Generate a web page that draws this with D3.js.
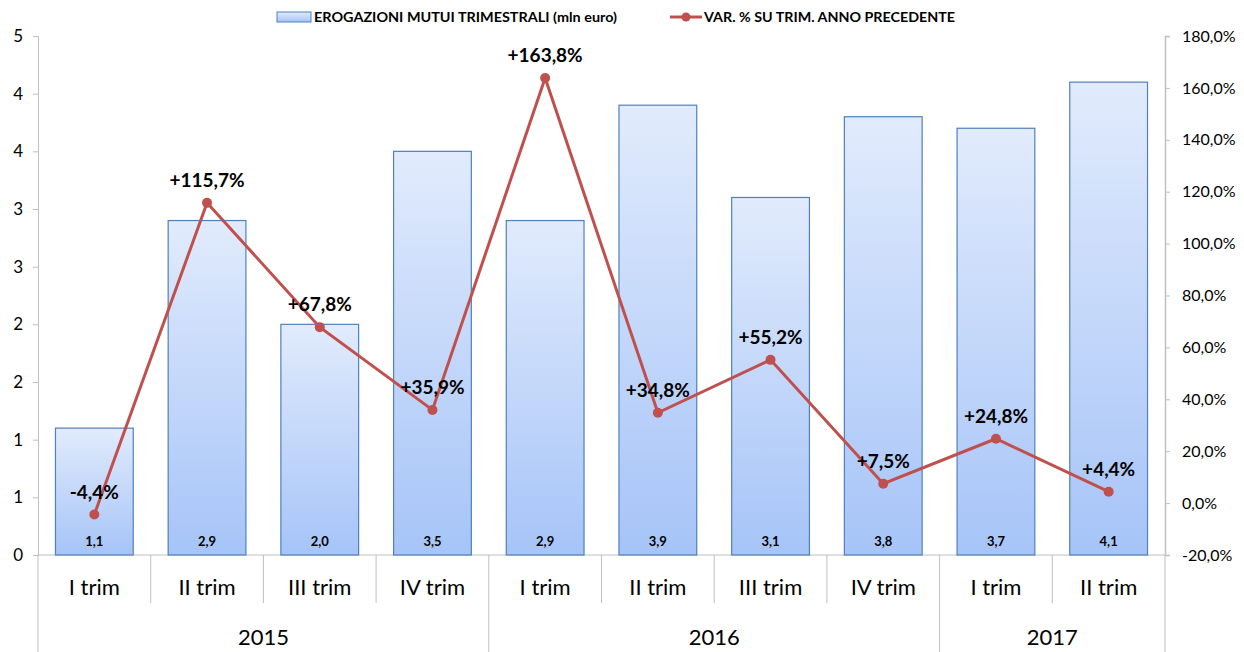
<!DOCTYPE html>
<html>
<head>
<meta charset="utf-8">
<script src="https://cdn.jsdelivr.net/npm/d3@7"></script>
<style>
  body { margin: 0; background: #fff; }
  svg { display: block; font-family: Lato, "Open Sans", sans-serif; }
</style>
</head>
<body>
<svg id="chart"></svg>
<script>
(function() {

  const quarters = ['I trim', 'II trim', 'III trim', 'IV trim', 'I trim', 'II trim', 'III trim', 'IV trim', 'I trim', 'II trim'];
  const years = ['2015', '2016', '2017'];
  const yearSpans = [4, 4, 2];
  const erogazioni = [1.1, 2.9, 2.0, 3.5, 2.9, 3.9, 3.1, 3.8, 3.7, 4.1];
  const variazioni = [-4.4, 115.7, 67.8, 35.9, 163.8, 34.8, 55.2, 7.5, 24.8, 4.4];
  const leftTicks = [0, 0.5, 1, 1.5, 2, 2.5, 3, 3.5, 4, 4.5];
  const rightTicks = [-20, 0, 20, 40, 60, 80, 100, 120, 140, 160, 180];

  const width = 1244;
  const height = 652;
  const margin = { left: 38, right: 79, top: 36, bottom: 97 };
  const plotRight = width - margin.right;
  const plotBottom = height - margin.bottom;

  const lineColor = '#c0504d';
  const axisColor = '#bfbfbf';

  // italian number format, plain hyphen for negatives
  const fmt1 = function(d) {
    return (d < 0 ? '-' : '') + Math.abs(d).toFixed(1).replace('.', ',');
  };

  const svg = d3.select('#chart').attr('width', width).attr('height', height);

  const defs = svg.append('defs');
  const grad = defs.append('linearGradient')
    .attr('id', 'barGrad')
    .attr('x1', 0).attr('y1', 0).attr('x2', 0).attr('y2', 1);
  grad.append('stop').attr('offset', '0%').attr('stop-color', '#e1ebfc');
  grad.append('stop').attr('offset', '100%').attr('stop-color', '#a6c4f8');

  const idx = d3.range(quarters.length);

  const x = d3.scaleBand()
    .domain(idx)
    .range([margin.left, plotRight])
    .paddingInner(0.31)
    .paddingOuter(0.155);

  const catLeft = function(i) { return margin.left + i * (plotRight - margin.left) / quarters.length; };

  const yLeft = d3.scaleLinear().domain([0, 4.5]).range([plotBottom, margin.top]);
  const yRight = d3.scaleLinear().domain([-20, 180]).range([plotBottom, margin.top]);

  // left axis
  const leftAxis = d3.axisLeft(yLeft)
    .tickValues(leftTicks)
    .tickSize(5)
    .tickPadding(10)
    .tickFormat(function(d) { return Math.round(d + 0.0001); });
  const gl = svg.append('g')
    .attr('transform', 'translate(' + margin.left + ',0)')
    .call(leftAxis);
  gl.select('.domain').attr('stroke', axisColor);
  gl.selectAll('.tick line').attr('stroke', axisColor);
  gl.selectAll('.tick text')
    .attr('fill', '#000')
    .style('font-size', '17px')
    .style('font-family', 'Lato, sans-serif');

  // right axis
  const rightAxis = d3.axisRight(yRight)
    .tickValues(rightTicks)
    .tickSize(5)
    .tickPadding(12)
    .tickFormat(function(d) { return fmt1(d) + '%'; });
  const gr = svg.append('g')
    .attr('transform', 'translate(' + plotRight + ',0)')
    .call(rightAxis);
  gr.select('.domain').attr('stroke', axisColor).attr('stroke-width', 1.5);
  gr.selectAll('.tick line').attr('stroke', axisColor);
  gr.selectAll('.tick text')
    .attr('fill', '#000')
    .style('font-size', '16px')
    .style('font-family', 'Lato, sans-serif');

  // category axis
  const catG = svg.append('g');
  catG.append('line')
    .attr('x1', margin.left).attr('x2', plotRight)
    .attr('y1', plotBottom).attr('y2', plotBottom)
    .attr('stroke', axisColor);

  const groupEdges = [0];
  yearSpans.forEach(function(s, i) { groupEdges.push(groupEdges[i] + s); });

  d3.range(quarters.length + 1).forEach(function(i) {
    const isGroup = groupEdges.indexOf(i) >= 0;
    catG.append('line')
      .attr('x1', catLeft(i)).attr('x2', catLeft(i))
      .attr('y1', plotBottom).attr('y2', isGroup ? height : plotBottom + 48)
      .attr('stroke', axisColor);
  });

  catG.selectAll('text.q')
    .data(quarters)
    .enter()
    .append('text')
    .attr('class', 'q')
    .attr('x', function(d, i) { return x(i) + x.bandwidth() / 2; })
    .attr('y', plotBottom + 40)
    .attr('text-anchor', 'middle')
    .style('font-size', '22px')
    .text(function(d) { return d; });

  catG.selectAll('text.yr')
    .data(years)
    .enter()
    .append('text')
    .attr('class', 'yr')
    .attr('x', function(d, i) { return (catLeft(groupEdges[i]) + catLeft(groupEdges[i + 1])) / 2; })
    .attr('y', plotBottom + 90)
    .attr('text-anchor', 'middle')
    .style('font-size', '22px')
    .text(function(d) { return d; });

  // bars
  svg.append('g').selectAll('rect')
    .data(erogazioni)
    .enter()
    .append('rect')
    .attr('x', function(d, i) { return x(i); })
    .attr('y', function(d) { return yLeft(d); })
    .attr('width', x.bandwidth())
    .attr('height', function(d) { return plotBottom - yLeft(d); })
    .attr('fill', 'url(#barGrad)')
    .attr('stroke', '#4f81bd')
    .attr('stroke-width', 1.2);

  svg.append('g').selectAll('text')
    .data(erogazioni)
    .enter()
    .append('text')
    .attr('x', function(d, i) { return x(i) + x.bandwidth() / 2; })
    .attr('y', plotBottom - 9)
    .attr('text-anchor', 'middle')
    .style('font-size', '13px')
    .style('font-weight', 'bold')
    .text(function(d) { return fmt1(d); });

  // line
  const line = d3.line()
    .x(function(d, i) { return x(i) + x.bandwidth() / 2; })
    .y(function(d) { return yRight(d); });

  svg.append('path')
    .datum(variazioni)
    .attr('d', line)
    .attr('fill', 'none')
    .attr('stroke', lineColor)
    .attr('stroke-width', 3);

  svg.append('g').selectAll('circle')
    .data(variazioni)
    .enter()
    .append('circle')
    .attr('cx', function(d, i) { return x(i) + x.bandwidth() / 2; })
    .attr('cy', function(d) { return yRight(d); })
    .attr('r', 5)
    .attr('fill', lineColor);

  svg.append('g').selectAll('text')
    .data(variazioni)
    .enter()
    .append('text')
    .attr('x', function(d, i) { return x(i) + x.bandwidth() / 2; })
    .attr('y', function(d) { return yRight(d) - 16; })
    .attr('text-anchor', 'middle')
    .style('font-size', '19px')
    .style('font-weight', 'bold')
    .text(function(d) { return (d > 0 ? '+' : '') + fmt1(d) + '%'; });

  // legend
  const lg = svg.append('g').attr('transform', 'translate(0,17)');
  lg.append('rect')
    .attr('x', 277).attr('y', -5)
    .attr('width', 34).attr('height', 10)
    .attr('fill', 'url(#barGrad)')
    .attr('stroke', '#4f81bd');
  lg.append('text')
    .attr('x', 314).attr('y', 5)
    .attr('textLength', 303)
    .attr('lengthAdjust', 'spacingAndGlyphs')
    .style('font-size', '14px')
    .style('font-weight', 'bold')
    .text('EROGAZIONI MUTUI TRIMESTRALI (mln euro)');
  lg.append('line')
    .attr('x1', 670).attr('x2', 702)
    .attr('y1', 0).attr('y2', 0)
    .attr('stroke', lineColor)
    .attr('stroke-width', 3);
  lg.append('circle')
    .attr('cx', 686).attr('cy', 0).attr('r', 4.5)
    .attr('fill', lineColor);
  lg.append('text')
    .attr('x', 704).attr('y', 5)
    .attr('textLength', 251)
    .attr('lengthAdjust', 'spacingAndGlyphs')
    .style('font-size', '14px')
    .style('font-weight', 'bold')
    .text('VAR. % SU TRIM. ANNO PRECEDENTE');
})();
</script>
</body>
</html>
